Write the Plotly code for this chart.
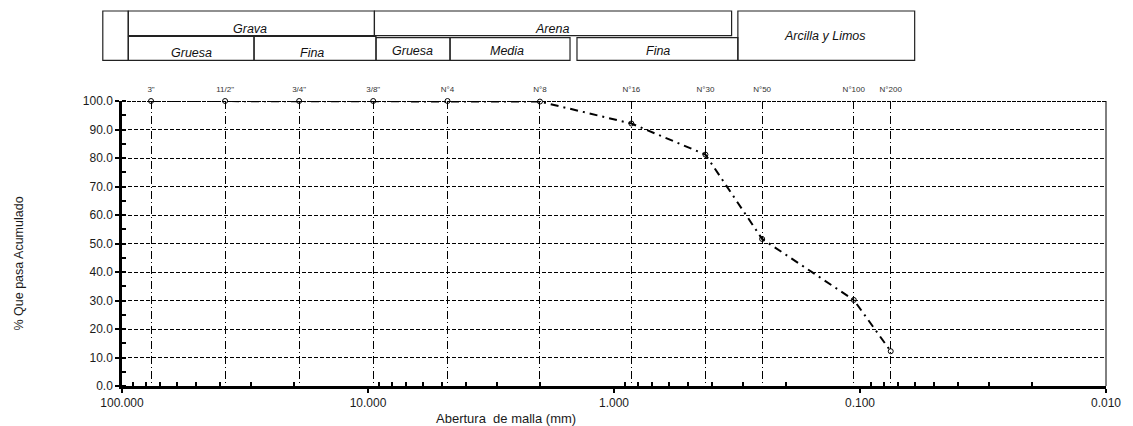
import plotly.graph_objects as go

# ---------------- data ----------------
sieve_labels = ['3"', '11/2"', '3/4"', '3/8"', 'N°4', 'N°8', 'N°16', 'N°30', 'N°50', 'N°100', 'N°200']
openings_mm = [76.2, 38.1, 19.05, 9.525, 4.75, 2.00, 0.85, 0.425, 0.25, 0.106, 0.075]
passing_pct = [100.0, 100.0, 100.0, 100.0, 100.0, 99.8, 92.1, 81.2, 51.6, 30.2, 12.2]

x_major_vals = [100, 10, 1, 0.1, 0.01]
x_major_text = ["100.000", "10.000", "1.000", "0.100", "0.010"]
y_tick_vals = [0, 10, 20, 30, 40, 50, 60, 70, 80, 90, 100]

# ---------------- layout geometry (pixels) ----------------
W, H = 1133, 426
L, R, T, B = 122, 22, 101, 40
PW, PH = W - L - R, H - T - B

def px(x):
    return (x - L) / PW

def py(y):
    return (H - B - y) / PH

FONT = "Liberation Sans, Arial, sans-serif"

fig = go.Figure()

fig.add_trace(go.Scatter(
    x=openings_mm, y=passing_pct, mode="lines+markers",
    line=dict(color="black", width=2, dash="8px,5px,2px,5px"),
    marker=dict(symbol="circle-open", size=5, color="black", line=dict(width=1)),
    cliponaxis=False, showlegend=False, hoverinfo="x+y",
))

# invisible trace to activate top sieve axis
fig.add_trace(go.Scatter(x=openings_mm, y=passing_pct, xaxis="x2", mode="markers",
                         marker=dict(opacity=0), showlegend=False, hoverinfo="skip"))
# invisible trace for minor tick axis
fig.add_trace(go.Scatter(x=openings_mm, y=passing_pct, xaxis="x3", mode="markers",
                         marker=dict(opacity=0), showlegend=False, hoverinfo="skip"))

minor_vals = [d * m for d in (10, 1, 0.1, 0.01) for m in range(2, 10)]

xrange = [2, -2]
fig.update_layout(
    width=W, height=H,
    margin=dict(l=L, r=R, t=T, b=B),
    paper_bgcolor="white", plot_bgcolor="white",
    font=dict(family=FONT, size=12, color="#1a1a1a"),
    xaxis=dict(
        type="log", range=xrange,
        tickvals=x_major_vals, ticktext=x_major_text,
        ticks="outside", ticklen=4, tickwidth=1.5, tickcolor="black",
        showgrid=False, zeroline=False,
        showline=True, linecolor="black", linewidth=2.5,
        tickfont=dict(size=12, color="#1a1a1a"),
    ),
    xaxis2=dict(
        type="log", range=xrange, overlaying="x", side="top", anchor="y",
        tickvals=openings_mm, ticktext=sieve_labels,
        ticks="", showline=False, zeroline=False,
        showgrid=True, gridcolor="black", gridwidth=1, griddash="8px,3px,1px,3px",
        tickfont=dict(size=8, color="#333"),
        ticklabelstandoff=6,
    ),
    xaxis3=dict(
        type="log", range=xrange, overlaying="x", side="bottom", anchor="y",
        tickvals=minor_vals, showticklabels=False,
        ticks="inside", ticklen=4, tickwidth=1.5, tickcolor="black",
        showgrid=False, showline=False, zeroline=False,
    ),
    yaxis=dict(
        range=[0, 100], tickvals=y_tick_vals, tickformat=".1f",
        ticks="outside", ticklen=4, tickwidth=1.5, tickcolor="black",
        minor=dict(ticks="inside", ticklen=4, tickwidth=1.5, tickcolor="black", dtick=5, showgrid=False),
        showgrid=True, gridcolor="black", gridwidth=1, griddash="4px,2px",
        zeroline=False,
        showline=True, linecolor="black", linewidth=2.5,
        tickfont=dict(size=12, color="#1a1a1a"),
    ),
)

shapes = []
# right border
shapes.append(dict(type="line", xref="paper", yref="paper", x0=1, x1=1, y0=0, y1=1,
                   line=dict(color="black", width=1)))
# top line (y=100) emphasised
shapes.append(dict(type="line", xref="paper", yref="y", x0=0, x1=1, y0=100, y1=100,
                   line=dict(color="black", width=2, dash="4px,1px"), layer="below"))

# classification table boxes (pixel coordinates)
boxes = [
    (102.7, 128.3, 11, 60.3),
    (128.3, 375.7, 11, 35.7),
    (128.3, 254.7, 36.5, 60.3),
    (254.7, 377.3, 36.5, 60.3),
    (375.7, 734.7, 11, 35.7),
    (377.3, 451.7, 37.7, 60.3),
    (451.7, 572.3, 37.7, 60.3),
    (579.3, 741.0, 37.7, 60.3),
    (741.0, 918.7, 11, 60.3),
]
for x0, x1, y0, y1 in boxes:
    shapes.append(dict(type="rect", xref="paper", yref="paper",
                       x0=px(x0), x1=px(x1), y0=py(y1), y1=py(y0),
                       line=dict(color="#222", width=1.2), fillcolor="rgba(0,0,0,0)"))
fig.update_layout(shapes=shapes)

box_texts = [
    ("Grava", 251, 29),
    ("Gruesa", 191.7, 53),
    ("Fina", 313, 53),
    ("Gruesa", 414, 50.7),
    ("Media", 509, 51),
    ("Arena", 554, 29),
    ("Fina", 661, 51),
    ("Arcilla y Limos", 829, 36),
]
annotations = []
for t, x, y in box_texts:
    annotations.append(dict(text="<i>%s</i>" % t, xref="paper", yref="paper",
                            x=px(x), y=py(y), showarrow=False,
                            xanchor="center", yanchor="middle",
                            font=dict(family=FONT, size=12.5, color="#111")))
annotations.append(dict(text="% Que pasa Acumulado", xref="paper", yref="paper",
                        x=px(18), y=py(264), textangle=-90, showarrow=False,
                        xanchor="center", yanchor="middle",
                        font=dict(family=FONT, size=12.5, color="#1a1a1a")))
annotations.append(dict(text="Abertura  de malla (mm)", xref="paper", yref="paper",
                        x=px(508), y=py(418), showarrow=False,
                        xanchor="center", yanchor="middle",
                        font=dict(family=FONT, size=13, color="#1a1a1a")))
fig.update_layout(annotations=annotations)

fig.write_html("out.html")
